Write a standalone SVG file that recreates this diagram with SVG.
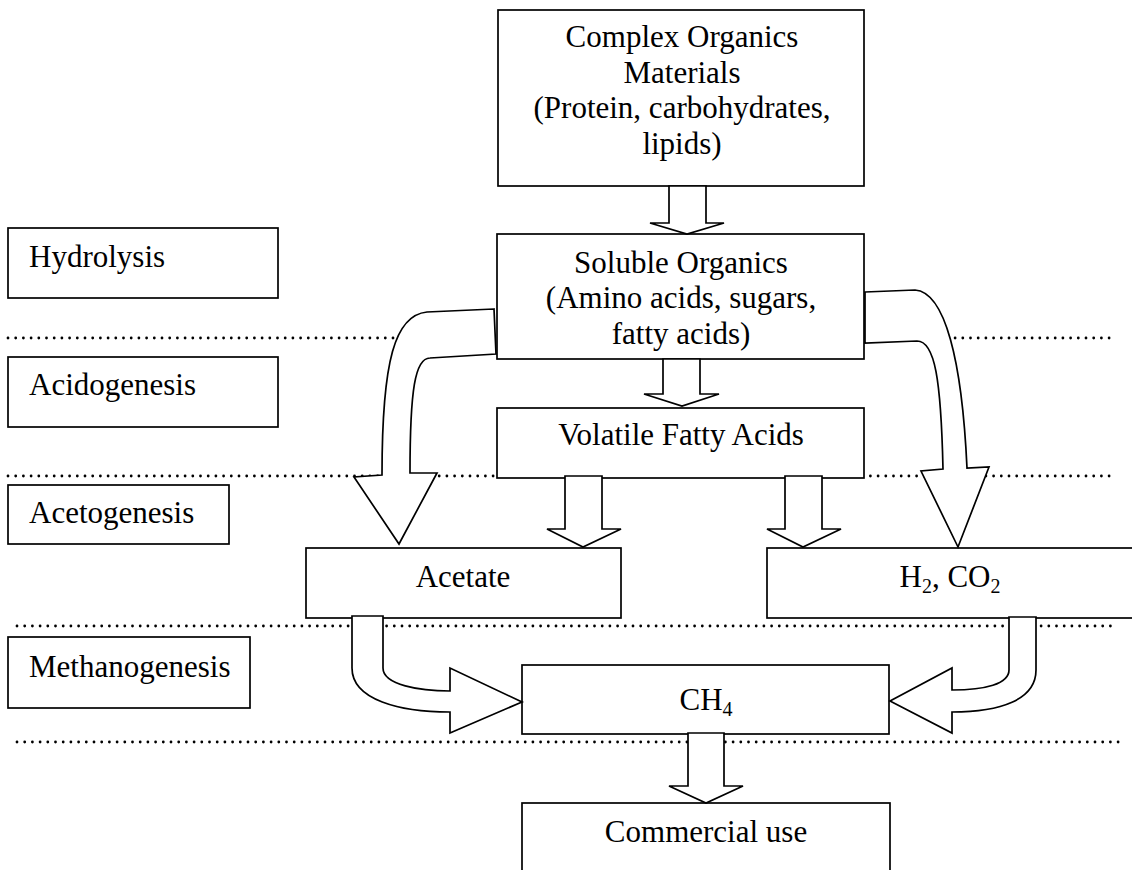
<svg xmlns="http://www.w3.org/2000/svg" width="1132" height="870" viewBox="0 0 1132 870">
<style>
  .box { fill: #ffffff; stroke: #000000; stroke-width: 1.7; }
  .arrow { fill: #ffffff; stroke: #000000; stroke-width: 1.7; stroke-linejoin: miter; }
  .dots { fill: none; stroke: #000000; stroke-width: 2.8; stroke-linecap: round; stroke-dasharray: 0 7.7; }
  text { font-family: "Liberation Serif", "Times New Roman", serif; font-size: 31px; fill: #000000; }
  .c { text-anchor: middle; }
  .sub { font-size: 20px; }
</style>
<rect x="0" y="0" width="1132" height="870" fill="#ffffff"/>

<g id="separators">
  <line class="dots" x1="8" y1="338" x2="1110" y2="338"/>
  <line class="dots" x1="8" y1="476" x2="1110" y2="476"/>
  <line class="dots" x1="17" y1="626" x2="1118" y2="626"/>
  <line class="dots" x1="17" y1="742" x2="1120" y2="742"/>
</g>

<g id="stage-hydrolysis">
  <rect class="box" x="8" y="228" width="270" height="70"/>
  <text x="29" y="267">Hydrolysis</text>
</g>
<g id="stage-acidogenesis">
  <rect class="box" x="8" y="357" width="270" height="70"/>
  <text x="29" y="395">Acidogenesis</text>
</g>
<g id="stage-acetogenesis">
  <rect class="box" x="8" y="485" width="221" height="59"/>
  <text x="29" y="523">Acetogenesis</text>
</g>
<g id="stage-methanogenesis">
  <rect class="box" x="8" y="637" width="242" height="71"/>
  <text x="29" y="677">Methanogenesis</text>
</g>

<g id="node-complex">
  <rect class="box" x="498" y="10" width="366" height="176"/>
  <text class="c" x="682" y="47">Complex Organics</text>
  <text class="c" x="682" y="83">Materials</text>
  <text class="c" x="682" y="118">(Protein, carbohydrates,</text>
  <text class="c" x="682" y="154">lipids)</text>
</g>
<g id="node-soluble">
  <rect class="box" x="497" y="234" width="367" height="125"/>
  <text class="c" x="681" y="273">Soluble Organics</text>
  <text class="c" x="681" y="308">(Amino acids, sugars,</text>
  <text class="c" x="681" y="344">fatty acids)</text>
</g>
<g id="node-vfa">
  <rect class="box" x="497" y="408" width="367" height="70"/>
  <text class="c" x="681" y="445">Volatile Fatty Acids</text>
</g>
<g id="node-acetate">
  <rect class="box" x="306" y="548" width="315" height="70"/>
  <text class="c" x="463" y="587">Acetate</text>
</g>
<g id="node-h2co2">
  <rect class="box" x="767" y="548" width="370" height="70"/>
  <text class="c" x="950" y="587">H<tspan class="sub" dy="6">2</tspan><tspan dy="-6">, CO</tspan><tspan class="sub" dy="6">2</tspan></text>
</g>
<g id="node-ch4">
  <rect class="box" x="522" y="665" width="367" height="69"/>
  <text class="c" x="706" y="710">CH<tspan class="sub" dy="6">4</tspan></text>
</g>
<g id="node-commercial">
  <rect class="box" x="522" y="803" width="368" height="80"/>
  <text class="c" x="706" y="842">Commercial use</text>
</g>

<g id="connectors">
  <polygon class="arrow" points="669,186 706,186 706,223 724,223 687,234 650,223 669,223"/>
  <polygon class="arrow" points="663,359 700,359 700,394 719,394 682,406 644,394 663,394"/>
  <polygon class="arrow" points="565,476 602,476 602,529 621,529 583,547 547,529 565,529"/>
  <polygon class="arrow" points="785,476 822,476 822,529 841,529 803,547 767,529 785,529"/>
  <polygon class="arrow" points="688,733 724,733 724,786 743,786 706,803 669,786 688,786"/>
  <path class="arrow" d="M494,309 L427,312 C395,315 382,360 382,475 L354,477 L399,544 L437,473 L410,473 C410,390 415,358 430,358 L496,354 Z"/>
  <path class="arrow" d="M865,292 L915,290 C945,292 962,360 967,468 L989,467 L958,547 L921,471 L943,469 C941,380 935,341 917,341 L865,343 Z"/>
  <path class="arrow" d="M352,616 L383,616 L383,668 C383,685 420,691 450,691 L450,668 L522,702 L450,733 L450,712 C400,712 352,700 352,668 Z"/>
  <path class="arrow" d="M1036,617 L1009,617 L1009,670 C1009,684 985,690 952,690 L952,668 L890,701 L952,733 L952,712 C1000,712 1036,700 1036,670 Z"/>
</g>
</svg>
